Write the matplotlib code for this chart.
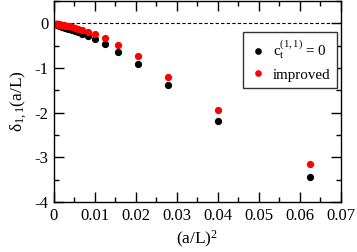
import matplotlib
matplotlib.use("Agg")
import matplotlib.pyplot as plt
from matplotlib.ticker import MultipleLocator

plt.rcParams['font.family'] = ['Liberation Serif', 'DejaVu Serif']
plt.rcParams['mathtext.fontset'] = 'custom'
plt.rcParams['mathtext.rm'] = 'Liberation Serif'
plt.rcParams['mathtext.it'] = 'Liberation Serif'
plt.rcParams['mathtext.bf'] = 'Liberation Serif:bold'
plt.rcParams['axes.unicode_minus'] = False

# lattice sizes L/a
L_over_a = [4, 5, 6, 7, 8, 9, 10, 11, 12, 13, 14, 15, 16, 17, 18, 19, 20, 21, 22, 23,
            24, 25, 26, 27, 28, 29, 30, 31, 32, 36, 40, 44, 48]
delta_ct0 = [-3.43, -2.19, -1.38, -0.90, -0.63, -0.46, -0.36, -0.29, -0.24, -0.20, -0.17,
             -0.15, -0.13, -0.12, -0.105, -0.095, -0.085, -0.078, -0.071, -0.065, -0.060,
             -0.055, -0.051, -0.047, -0.044, -0.041, -0.038, -0.036, -0.034, -0.027,
             -0.022, -0.018, -0.015]
delta_improved = [-3.15, -1.94, -1.19, -0.74, -0.48, -0.33, -0.24, -0.19, -0.15, -0.12,
                  -0.10, -0.085, -0.07, -0.065, -0.058, -0.052, -0.047, -0.043, -0.039,
                  -0.036, -0.033, -0.030, -0.028, -0.026, -0.024, -0.022, -0.021, -0.020,
                  -0.019, -0.015, -0.012, -0.010, -0.008]
x_tick_labels = ['0', '0.01', '0.02', '0.03', '0.04', '0.05', '0.06', '0.07']
y_tick_labels = ['-4', '-3', '-2', '-1', '0']

x = [1.0 / (L * L) for L in L_over_a]

fig = plt.figure(figsize=(3.57, 2.52), dpi=100)
ax = fig.add_axes([0.151, 0.198, 0.804, 0.798])

ax.axhline(0, color='black', linestyle=(0, (3, 2)), linewidth=0.8)
ax.plot(x, delta_ct0, 'o', color='black', markersize=4.2, linestyle='none',
        label='c$_{\\rm t}^{(1,1)}$ = 0')
ax.plot(x, delta_improved, 'o', color='red', markersize=4.2, linestyle='none',
        label='improved')

ax.set_xlim(0, 0.07)
ax.set_ylim(-4, 0.5)
ax.xaxis.set_minor_locator(MultipleLocator(0.005))
ax.yaxis.set_minor_locator(MultipleLocator(0.5))
ax.set_xticks([0, 0.01, 0.02, 0.03, 0.04, 0.05, 0.06, 0.07])
ax.set_xticklabels(x_tick_labels)
ax.set_yticks([-4, -3, -2, -1, 0])
ax.set_yticklabels(y_tick_labels)
ax.tick_params(which='major', direction='in', length=7, width=1, top=True, right=True,
               labelsize=12, pad=4)
ax.tick_params(which='minor', direction='in', length=3.5, width=1, top=True, right=True)
for s in ax.spines.values():
    s.set_linewidth(1)

ax.set_xlabel('(a/L)$^2$', fontsize=12.5, labelpad=4)
ax.set_ylabel('$\\delta_{1,1}$(a/L)', fontsize=12.5, labelpad=4)

leg = ax.legend(loc='upper right', bbox_to_anchor=(0.986, 0.846), borderaxespad=0,
                fontsize=10.8, fancybox=False, edgecolor='#333333', framealpha=1,
                handletextpad=0.5, markerscale=0.9, borderpad=0.45, labelspacing=0.45,
                handlelength=1.0)
leg.get_frame().set_linewidth(1)

fig.savefig('out.png', dpi=100)
